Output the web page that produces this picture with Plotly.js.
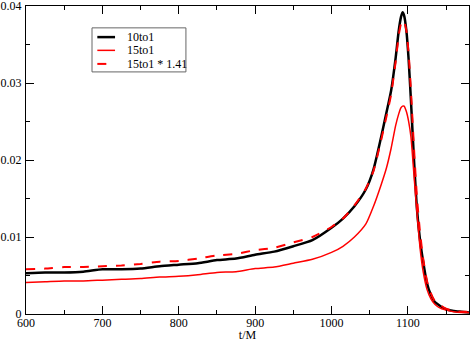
<!DOCTYPE html>
<html>
<head>
<meta charset="utf-8">
<script src="https://cdn.plot.ly/plotly-3.0.1.min.js"></script>
<style>
  html, body { margin: 0; padding: 0; background: #fff; }
  #chart { width: 471px; height: 342px; }
</style>
</head>
<body>
<div id="chart"></div>
<script>
/*
! waveform amplitude vs t/M
*/
var t = [600, 625, 650, 675, 700, 725, 750, 775, 800, 825, 850, 875, 900, 925, 950, 975,
  1000, 1015, 1030, 1045, 1055, 1065, 1072, 1078, 1084, 1088, 1091, 1093, 1095, 1098,
  1101, 1104, 1108, 1112, 1116, 1120, 1125, 1130, 1135, 1140, 1150, 1160, 1170, 1180];

var amp10to1 = [0.0053, 0.0054, 0.0054, 0.0055, 0.0058, 0.0058, 0.0059, 0.0062, 0.0064, 0.0066,
  0.0070, 0.0072, 0.0077, 0.0081, 0.0088, 0.0096, 0.0112, 0.0124, 0.0140, 0.0162, 0.0188,
  0.0230, 0.0262, 0.0290, 0.0333, 0.0368, 0.0386, 0.0392, 0.0388, 0.0368, 0.0330, 0.0277,
  0.0200, 0.0135, 0.0095, 0.0068, 0.0040, 0.0025, 0.0016, 0.0012, 0.0006, 0.0004, 0.0003, 0.0002];

var amp15to1 = [0.0041, 0.0042, 0.0043, 0.0043, 0.0044, 0.0045, 0.0046, 0.0048, 0.0049, 0.0051,
  0.0054, 0.0055, 0.0059, 0.0061, 0.0066, 0.0071, 0.0080, 0.0088, 0.0100, 0.0117, 0.0140,
  0.0168, 0.0190, 0.0215, 0.0245, 0.0260, 0.0268, 0.0270, 0.0270, 0.0263, 0.0250, 0.0230,
  0.0180, 0.0130, 0.0085, 0.0055, 0.0032, 0.0020, 0.0013, 0.0009, 0.0005, 0.0003, 0.0002, 0.0002];

var amp15to1Scaled = [0.0058, 0.0059, 0.0061, 0.0061, 0.0062, 0.0063, 0.0065, 0.0068, 0.0069, 0.0072,
  0.0076, 0.0078, 0.0083, 0.0086, 0.0093, 0.0100, 0.0113, 0.0124, 0.0141, 0.0163, 0.0186,
  0.0226, 0.0257, 0.0285, 0.0328, 0.0362, 0.0377, 0.0381, 0.0380, 0.0368, 0.0338, 0.0290,
  0.0215, 0.0150, 0.0105, 0.0072, 0.0043, 0.0027, 0.0017, 0.0013, 0.0007, 0.0004, 0.0003, 0.0003];

var names = ['10to1', '15to1', '15to1 * 1.41'];
var colors = ['black', 'red', 'red'];
var widths = [2.5, 1.5, 2];
var dashes = ['solid', 'solid', 'dash'];
var series = [amp10to1, amp15to1, amp15to1Scaled];

var serif = "'Liberation Serif', 'Times New Roman', serif";

var traces = series.map(function (ys, i) {
  return {
    x: t, y: ys, name: names[i], mode: 'lines', showlegend: false,
    line: { color: colors[i], width: widths[i], dash: dashes[i], shape: 'spline', smoothing: 0.6 }
  };
});

// legend box drawn by hand (plotly's rows are too tall for this one)
var shapes = [{
  type: 'rect', xref: 'paper', yref: 'paper',
  x0: 0.149, x1: 0.361, y0: 0.786, y1: 0.929,
  fillcolor: 'white', line: { color: '#666', width: 1 }
}];
var annotations = [];
var rowY = [0.899, 0.856, 0.812];
names.forEach(function (nm, i) {
  shapes.push({
    type: 'line', xref: 'paper', yref: 'paper',
    x0: 0.161, x1: 0.201, y0: rowY[i], y1: rowY[i],
    line: { color: colors[i], width: widths[i], dash: dashes[i] }
  });
  annotations.push({
    xref: 'paper', yref: 'paper', x: 0.223, y: rowY[i],
    xanchor: 'left', yanchor: 'middle', showarrow: false,
    text: nm, font: { family: serif, size: 12, color: 'black' }
  });
});

var layout = {
  width: 471,
  height: 342,
  margin: { l: 26, r: 2, t: 6, b: 28 },
  paper_bgcolor: 'white',
  plot_bgcolor: 'white',
  font: { family: serif, size: 12, color: 'black' },
  showlegend: false,
  shapes: shapes,
  annotations: annotations,
  xaxis: {
    title: { text: 't/M', font: { family: serif, size: 12 } },
    range: [600, 1180],
    dtick: 100,
    tick0: 600,
    ticks: 'inside', ticklen: 8, tickcolor: 'black',
    minor: { ticks: 'inside', ticklen: 4, dtick: 50, tickcolor: 'black' },
    showline: true, linecolor: 'black', linewidth: 1, mirror: 'ticks',
    showgrid: false, zeroline: false,
    ticklabelstandoff: -2,
    tickfont: { family: serif, size: 12 }
  },
  yaxis: {
    range: [0, 0.04001],
    dtick: 0.01,
    tick0: 0,
    ticks: 'inside', ticklen: 8, tickcolor: 'black',
    minor: { ticks: 'inside', ticklen: 4, dtick: 0.005, tickcolor: 'black' },
    showline: true, linecolor: 'black', linewidth: 1, mirror: 'ticks',
    showgrid: false, zeroline: false,
    ticklabelstandoff: 1,
    ticklabeloverflow: 'allow',
    tickfont: { family: serif, size: 12 }
  }
};

Plotly.newPlot('chart', traces, layout, { displayModeBar: false });
</script>
</body>
</html>
